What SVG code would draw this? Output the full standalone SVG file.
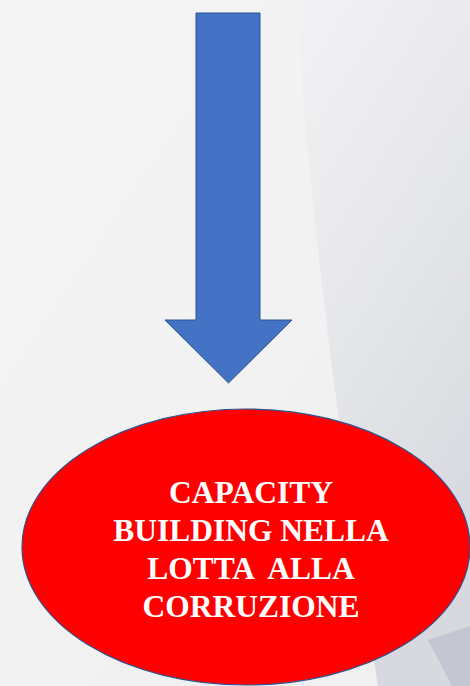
<svg xmlns="http://www.w3.org/2000/svg" width="470" height="686" viewBox="0 0 470 686">
  <defs>
    <linearGradient id="bgL" x1="0" y1="0" x2="1" y2="1">
      <stop offset="0" stop-color="#f5f5f5"/>
      <stop offset="1" stop-color="#efeff0"/>
    </linearGradient>
    <linearGradient id="bgR" x1="0" y1="0" x2="0.4" y2="1">
      <stop offset="0" stop-color="#f2f2f4"/>
      <stop offset="0.5" stop-color="#e6e7ea"/>
      <stop offset="1" stop-color="#d8d9df"/>
    </linearGradient>
    <style>
      .arrow { fill: #4472c4; stroke: #2f528f; stroke-width: 1; }
      .oval { fill: #ff0000; stroke: #2f528f; stroke-width: 1.2; }
      .lbl { font-family: "Liberation Serif", "Times New Roman", serif; font-weight: bold; font-size: 31.5px; fill: #ffffff; text-anchor: middle; }
    </style>
  </defs>
  <g id="background">
    <rect x="0" y="0" width="470" height="686" fill="url(#bgL)"/>
    <path d="M296,0 Q312,270 378,686 L470,686 L470,0 Z" fill="url(#bgR)"/>
    <path d="M428,640 L470,626 L470,686 L452,686 Z" fill="#c4c7d1"/>
  </g>
  <g id="connectors">
    <path id="arrow" class="arrow" d="M196,13 L260,13 L260,320 L292,320 L228.5,383 L165,320 L196,320 Z"/>
  </g>
  <g id="node-capacity">
    <ellipse class="oval" cx="246" cy="547" rx="224" ry="138"/>
    <text class="lbl" xml:space="preserve"><tspan x="251" y="503">CAPACITY</tspan><tspan x="251" y="541">BUILDING NELLA</tspan><tspan x="251" y="579">LOTTA  ALLA</tspan><tspan x="251" y="617">CORRUZIONE</tspan></text>
  </g>
</svg>
